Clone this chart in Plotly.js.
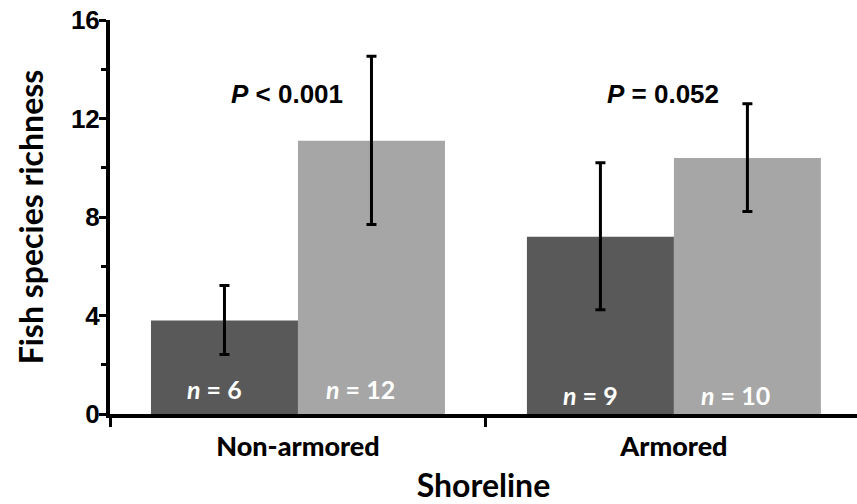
<!DOCTYPE html>
<html>
<head>
<meta charset="utf-8">
<script src="https://cdn.plot.ly/plotly-3.0.1.min.js"></script>
<style>html,body{margin:0;padding:0;background:#fff;}#chart{width:857px;height:504px;}</style>
</head>
<body>
<div id="chart"></div>
<script>
// ---- data ----
const categories = ["Non-armored", "Armored"];
const darkMeans = [3.8, 7.2];
const darkUpper = [1.42, 3.0];
const darkLower = [1.38, 2.97];
const lightMeans = [11.1, 10.4];
const lightUpper = [3.43, 2.2];
const lightLower = [3.4, 2.18];
const darkN = [6, 9];
const lightN = [12, 10];
const pLabels = ["<b><i>P</i> &lt; 0.001</b>", "<b><i>P</i> = 0.052</b>"];
const yTicks = [0, 4, 8, 12, 16];

const calFam = "Lato, 'Open Sans', sans-serif";
const titleFont = {family: calFam, size: 32, color: "#000", weight: 700};
const tickFontX = {family: calFam, size: 27, color: "#000", weight: 900};
const numFont = {family: "'Liberation Sans', Arial, sans-serif", size: 26, color: "#000", weight: 700};

const traces = [
  {
    type: "bar", x: categories, y: darkMeans, name: "dark",
    marker: {color: "#595959"},
    error_y: {type: "data", symmetric: false, array: darkUpper, arrayminus: darkLower,
              color: "#000", thickness: 3, width: 5},
    hoverinfo: "skip"
  },
  {
    type: "bar", x: categories, y: lightMeans, name: "light",
    marker: {color: "#a6a6a6"},
    error_y: {type: "data", symmetric: false, array: lightUpper, arrayminus: lightLower,
              color: "#000", thickness: 3, width: 5},
    hoverinfo: "skip"
  }
];

const barHalf = 0.195; // half of one bar width in category units (offset for annotations)
const annotations = [];
const nY = [1.0, 0.78];
categories.forEach((c, i) => {
  annotations.push({
    x: i - barHalf - 0.027, y: nY[i], xref: "x", yref: "y", showarrow: false,
    text: "<b><i>n</i> = " + darkN[i] + "</b>",
    font: {family: calFam, size: 25, color: "#fff"}
  });
  annotations.push({
    x: i + barHalf - 0.03, y: nY[i], xref: "x", yref: "y", showarrow: false,
    text: "<b><i>n</i> = " + lightN[i] + "</b>",
    font: {family: calFam, size: 25, color: "#fff"}
  });
  annotations.push({
    x: i - 0.03, y: 13.0, xref: "x", yref: "y", showarrow: false,
    text: pLabels[i],
    font: {family: "'Liberation Sans', Arial, sans-serif", size: 26, color: "#000"}
  });
});

const layout = {
  width: 857, height: 504,
  margin: {l: 110, r: 0, t: 20, b: 90},
  paper_bgcolor: "#fff", plot_bgcolor: "#fff",
  showlegend: false,
  barmode: "group", bargap: 0.218, bargroupgap: 0,
  xaxis: {
    type: "category", range: [-0.5, 1.487],
    tickvals: categories, ticktext: categories,
    showline: true, linecolor: "#000", linewidth: 4,
    ticks: "outside", tickson: "boundaries", ticklen: 9, tickwidth: 3, tickcolor: "#000",
    ticklabelstandoff: 6,
    tickfont: tickFontX, showgrid: false, zeroline: false,
    title: {text: "<b>Shoreline</b>", font: titleFont, standoff: 14}
  },
  yaxis: {
    range: [0, 16], tickvals: yTicks, ticktext: yTicks.map(String),
    showline: true, linecolor: "#000", linewidth: 4,
    ticks: "outside", ticklen: 7, tickwidth: 3, tickcolor: "#000",
    ticklabelstandoff: -6,
    minor: {dtick: 2, ticks: "outside", ticklen: 5, tickwidth: 3, tickcolor: "#000", showgrid: false},
    tickfont: numFont, showgrid: false, zeroline: false,
    title: {text: "<b>Fish species richness</b>", font: titleFont, standoff: 19}
  },
  annotations: annotations
};

Plotly.newPlot("chart", traces, layout, {displayModeBar: false, staticPlot: true});
</script>
</body>
</html>
